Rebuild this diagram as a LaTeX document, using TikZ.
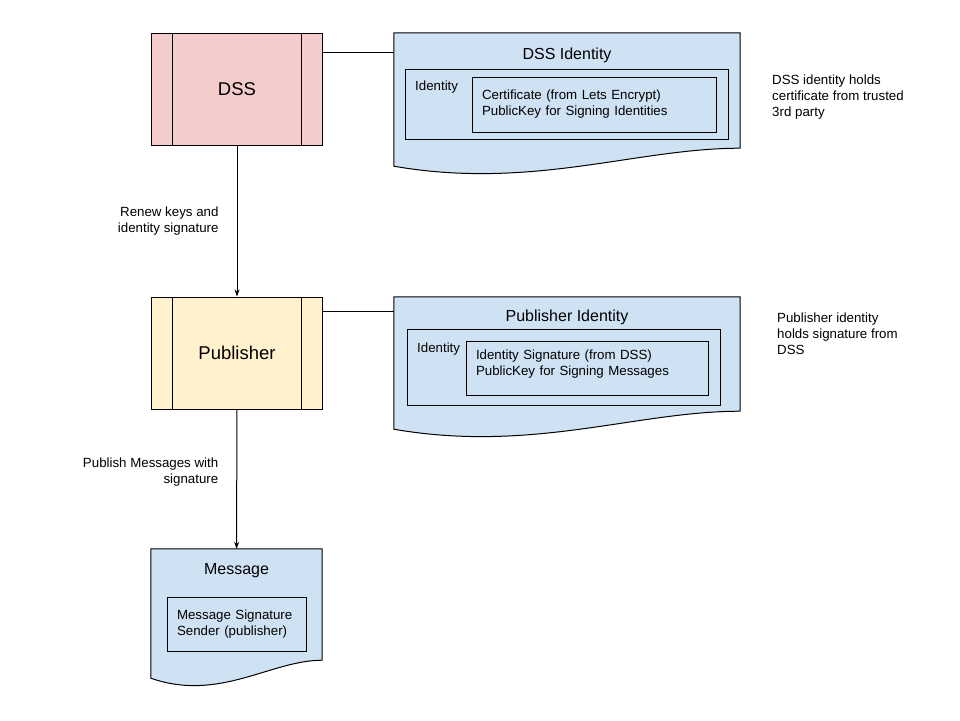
\documentclass[tikz,border=0pt]{standalone}
\usepackage{fontspec}
\setmainfont{Liberation Sans}
\usetikzlibrary{arrows.meta,positioning,calc}
\definecolor{dsspink}{HTML}{F4CCCC}
\definecolor{pubyellow}{HTML}{FFF2CC}
\definecolor{docblue}{HTML}{CFE2F3}
\tikzset{
    proc/.style={
        rectangle,
        draw=black,
        line width=1pt,
        minimum width=171pt,
        minimum height=112pt,
        font=\fontsize{18.5}{22}\selectfont,
        path picture={
            \draw[line width=1pt] ([xshift=21pt]path picture bounding box.north west) -- ([xshift=21pt]path picture bounding box.south west);
            \draw[line width=1pt] ([xshift=-21pt]path picture bounding box.north east) -- ([xshift=-21pt]path picture bounding box.south east);
        },
    },
    doc/.style={
        rectangle,
        inner sep=0pt,
    },
    docline/.style={
        draw=black,
        fill=docblue,
        line width=1pt,
    },
    box/.style={
        rectangle,
        draw=black,
        line width=1pt,
        inner sep=0pt,
    },
    textbox/.style={
        box,
        align=left,
        inner xsep=10pt,
        font=\fontsize{13.3}{16}\selectfont,
    },
    title/.style={
        inner sep=0pt,
        font=\fontsize{16}{19}\selectfont,
    },
    note/.style={
        inner sep=0pt,
        align=left,
        font=\fontsize{13.3}{16}\selectfont,
    },
    link/.style={
        draw,
        line width=1pt,
    },
    every edge/.style={
        draw,
        ->,>={Stealth[length=7pt,width=5pt]},
        line width=1pt,
    },
}
\begin{document}
\begin{tikzpicture}[x=1pt,y=-1pt]
    \useasboundingbox (0,0) rectangle (960,720);
    % document shapes
    \node [doc, minimum width=346pt, minimum height=115pt] (dssid) at (567,90.5) {};
    \node [doc, minimum width=346pt, minimum height=114pt] (pubid) at (567,354) {};
    \node [doc, minimum width=171pt, minimum height=111pt] (msg) at (236.5,604.5) {};
    \foreach \docname in {dssid,pubid,msg} {
        \draw[docline] (\docname.north west) -- (\docname.north east) -- (\docname.south east)
            .. controls ($(\docname.south east)!0.3!(\docname.south west)$)
            and ($(\docname.south east)!0.6!(\docname.south west)+(0,42)$)
            .. ($(\docname.south west)+(0,18)$) -- cycle;
    }

    \node [proc, fill=dsspink] (dss) at (237,89) {DSS};
    \node [proc, fill=pubyellow] (pub) at (237,353) {Publisher};

    \node [title] (dssidtitle) at ($(dssid.north)+(0,22.5)$) {DSS Identity};
    \node [box, minimum width=323pt, minimum height=70pt] (dssidouter) at (566.5,104) {};
    \node [note, anchor=west] (dssidlabel) at (415,87) {Identity};
    \node [textbox, text width=224pt, minimum height=55pt] (dsscert) at (594,104.5) {Certificate (from Lets Encrypt)\\PublicKey for Signing Identities};

    \node [title] (pubidtitle) at ($(pubid.north)+(0,20.5)$) {Publisher Identity};
    \node [box, minimum width=313pt, minimum height=76pt] (pubidouter) at (563.5,367) {};
    \node [note, anchor=west] (pubidlabel) at (417,349) {Identity};
    \node [textbox, text width=222pt, minimum height=54pt, text depth=26pt] (pubsig) at (587,368) {Identity Signature (from DSS)\\PublicKey for Signing Messages};

    \node [title] (msgtitle) at ($(msg.north)+(0,21.5)$) {Message};
    \node [textbox, text width=119pt, minimum height=54pt] (msgsig) at (236.5,624) {Message Signature\\Sender (publisher)};

    \node [note, anchor=west] (dssnote) at (772,97.5) {DSS identity holds\\certificate from trusted\\3rd party};
    \node [note, anchor=west] (pubnote) at (777,334) {Publisher identity\\holds signature from\\DSS};

    \draw[link] (dss.23) -- (dss.23 -| dssid.west);
    \draw[link] (pub.26) -- (pub.26 -| pubid.west);
    \draw (dss) edge node[note, align=right, left=18pt] {Renew keys and\\identity signature} (pub);
    \draw (pub) edge node[note, align=right, left=18pt, pos=0.45] {Publish Messages with\\signature} (msg);
\end{tikzpicture}
\end{document}
